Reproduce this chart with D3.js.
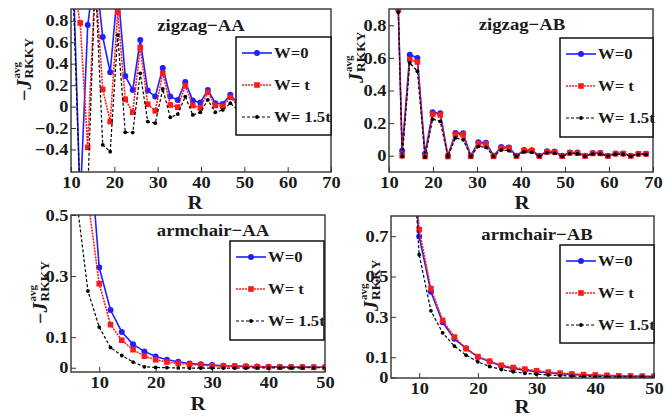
<!DOCTYPE html>
<html>
<head>
<meta charset="utf-8">
<script src="https://cdn.jsdelivr.net/npm/d3@7"></script>
<style>
  html, body { margin: 0; padding: 0; background: #fff; }
  svg { display: block; }
</style>
</head>
<body>
<div id="chart"></div>
<script>
// ---- data ----
// zigzag-AA : R = n*sqrt(3), n = 6..40
var zzAA_R = [10.39, 12.12, 13.86, 15.59, 17.32, 19.05, 20.78, 22.52, 24.25, 25.98, 27.71, 29.44,
              31.18, 32.91, 34.64, 36.37, 38.11, 39.84, 41.57, 43.30, 45.03, 46.77, 48.50, 50.23,
              51.96, 53.69, 55.43, 57.16, 58.89, 60.62, 62.35, 64.09, 65.82, 67.55, 69.28];
var zzAA_W0  = [1.4, -0.9, 0.76, 1.3, 0.65, 0.32, 1.1, 0.285, 0.155, 0.62, 0.15, 0.093,
                0.36, 0.093, 0.062, 0.23, 0.056, 0.037, 0.155, 0.031, 0.025, 0.11, 0.028, 0.02,
                0.08, 0.02, 0.015, 0.06, 0.015, 0.012, 0.045, 0.012, 0.01, 0.035, 0.01];
var zzAA_Wt  = [1.2, 0.78, -0.38, 1.2, 0.16, -0.14, 0.88, 0.068, -0.053, 0.55, 0.022, -0.04,
                0.31, 0.015, -0.006, 0.195, 0.01, -0.012, 0.133, 0.01, 0.003, 0.087, 0.01, 0.0,
                0.06, 0.006, 0.0, 0.045, 0.005, 0.0, 0.035, 0.004, 0.0, 0.028, 0.003];
var zzAA_W15 = [1.2, -0.9, -0.8, 1.2, -0.357, -0.42, 0.667, -0.24, -0.242, 0.31, -0.14, -0.155,
                0.164, -0.1, -0.07, 0.093, -0.078, -0.053, 0.062, -0.053, -0.031, 0.031, -0.03, -0.02,
                0.03, -0.02, -0.015, 0.02, -0.015, -0.01, 0.015, -0.01, -0.008, 0.012, -0.008];

// zigzag-AB
var zzAB_R = [12.12, 12.99, 14.72, 16.45, 18.19, 19.92, 21.65, 23.38, 25.11, 26.85, 28.58, 30.31,
              32.04, 33.77, 35.51, 37.24, 38.97, 40.70, 42.44, 44.17, 45.90, 47.63, 49.36, 51.10,
              52.83, 54.56, 56.29, 58.02, 59.76, 61.49, 63.22, 64.95, 66.68, 68.42];
var zzAB_W0  = [0.90, 0.03, 0.62, 0.60, 0.012, 0.266, 0.26, 0.0, 0.14, 0.137, 0.0, 0.082,
                0.08, 0.0, 0.053, 0.051, 0.0, 0.035, 0.033, 0.0, 0.027, 0.026, 0.0, 0.02,
                0.019, 0.0, 0.017, 0.016, 0.0, 0.014, 0.014, 0.0, 0.012, 0.012];
var zzAB_Wt  = [0.895, 0.0, 0.59, 0.575, -0.005, 0.255, 0.25, -0.005, 0.13, 0.128, -0.004, 0.075,
                0.073, -0.004, 0.047, 0.046, -0.003, 0.03, 0.03, -0.003, 0.023, 0.022, -0.003, 0.017,
                0.016, -0.002, 0.014, 0.014, -0.002, 0.012, 0.012, -0.002, 0.011, 0.01];
var zzAB_W15 = [0.88, -0.005, 0.57, 0.518, -0.008, 0.225, 0.21, -0.006, 0.109, 0.098, -0.005, 0.057,
                0.051, -0.004, 0.035, 0.031, -0.004, 0.024, 0.021, -0.003, 0.018, 0.016, -0.003, 0.013,
                0.012, -0.003, 0.011, 0.01, -0.002, 0.009, 0.009, -0.002, 0.008, 0.008];

// armchair-AA
var acAA_R = [6, 8, 10, 12, 14, 16, 18, 20, 22, 24, 26, 28, 30, 32, 34, 36, 38, 40, 42, 44, 46, 48, 50];
var acAA_W0  = [1.4, 0.8, 0.328, 0.189, 0.117, 0.0765, 0.0535, 0.037, 0.026, 0.0197, 0.014, 0.011,
                0.0087, 0.0066, 0.0055, 0.0045, 0.0038, 0.0032, 0.0027, 0.0023, 0.002, 0.0018, 0.0015];
var acAA_Wt  = [1.0, 0.55, 0.275, 0.141, 0.09, 0.059, 0.038, 0.026, 0.0186, 0.014, 0.011, 0.0087,
                0.0066, 0.0052, 0.0043, 0.0036, 0.003, 0.0026, 0.0022, 0.0019, 0.0017, 0.0015, 0.0013];
var acAA_W15 = [0.55, 0.251, 0.133, 0.066, 0.040, 0.0186, 0.003, 0.001, 0.0, -0.0005, -0.001, -0.001,
                -0.001, -0.001, -0.001, -0.0008, -0.0006, -0.0005, -0.0004, -0.0003, -0.0002, -0.0001, 0.0];

// armchair-AB
var acAB_R = [8, 10, 12, 14, 16, 18, 20, 22, 24, 26, 28, 30, 32, 34, 36, 38, 40, 42, 44, 46, 48, 50];
var acAB_W0  = [1.38, 0.698, 0.425, 0.273, 0.191, 0.144, 0.101, 0.0785, 0.057, 0.044, 0.036, 0.028,
                0.023, 0.018, 0.015, 0.012, 0.01, 0.008, 0.007, 0.006, 0.005, 0.004];
var acAB_Wt  = [1.45, 0.733, 0.44, 0.283, 0.2, 0.142, 0.103, 0.08, 0.06, 0.049, 0.041, 0.033,
                0.026, 0.021, 0.017, 0.014, 0.012, 0.01, 0.008, 0.007, 0.006, 0.005];
var acAB_W15 = [1.57, 0.608, 0.33, 0.221, 0.155, 0.11, 0.077, 0.054, 0.039, 0.028, 0.02, 0.016,
                0.012, 0.009, 0.007, 0.005, 0.004, 0.003, 0.003, 0.002, 0.002, 0.001];

var legendNames = ["W=0", "W= t", "W= 1.5t"];
var xTicksZZ = [10, 20, 30, 40, 50, 60, 70];
var xTicksAC = [10, 20, 30, 40, 50];
var yTicksZZAA = [-0.4, -0.2, 0, 0.2, 0.4, 0.6, 0.8];
var yTicksZZAB = [0, 0.2, 0.4, 0.6, 0.8];
var yTicksACAA = [0, 0.1, 0.3, 0.5];
var yTicksACAB = [0, 0.1, 0.3, 0.5, 0.7];

// ---- drawing ----
var W = 665, H = 420;
var FONT = '"Liberation Serif", "Times New Roman", serif';
var SX = 1.15;   // the figure's text is stretched sideways

var svg = d3.select("#chart").append("svg")
    .attr("width", W).attr("height", H);

var styles = [
  {color: "#1f1fff", width: 1.6, dash: null,  mark: "circle"},
  {color: "#ff1a1a", width: 1.6, dash: "2,1", mark: "square"},
  {color: "#000000", width: 1.2, dash: "3,2", mark: "dot"}
];

function fmt(v) {
  if (v === 0) return "0";
  return (v < 0 ? "\u2212" : "") + Math.abs(v);
}

function marker(g, kind, cx, cy, color) {
  if (kind === "circle") {
    g.append("circle").attr("cx", cx).attr("cy", cy).attr("r", 3).attr("fill", color);
  } else if (kind === "square") {
    g.append("rect").attr("x", cx - 2.8).attr("y", cy - 2.8).attr("width", 5.6).attr("height", 5.6).attr("fill", color);
  } else {
    g.append("circle").attr("cx", cx).attr("cy", cy).attr("r", 1.9).attr("fill", color);
  }
}

function stext(g, x, y, str, size, anchor, sx) {
  return g.append("text")
    .attr("transform", "translate(" + x + "," + y + ") scale(" + sx + ",1)")
    .attr("text-anchor", anchor)
    .attr("font-family", FONT)
    .attr("font-weight", "bold")
    .attr("font-size", size)
    .attr("fill", "#1a1a1a")
    .text(str);
}

function drawPanel(p, idx) {
  var x0 = p.frame[0], y0 = p.frame[1], x1 = p.frame[2], y1 = p.frame[3];
  var x = d3.scaleLinear().domain(p.xd).range([x0, x1]);
  var y = d3.scaleLinear().domain(p.yd).range([y1, y0]);
  var g = svg.append("g");

  svg.append("clipPath").attr("id", "clip" + idx)
    .append("rect").attr("x", x0).attr("y", y0).attr("width", x1 - x0).attr("height", y1 - y0);

  // axes, ticks pointing inward
  var ya = g.append("g").attr("transform", "translate(" + x0 + ",0)")
    .call(d3.axisLeft(y).tickValues(p.yt).tickFormat(fmt).tickSizeInner(-5).tickSizeOuter(0).tickPadding(3));
  var xa = g.append("g").attr("transform", "translate(0," + y1 + ")")
    .call(d3.axisBottom(x).tickValues(p.xt).tickFormat(fmt).tickSizeInner(-5).tickSizeOuter(0).tickPadding(4));
  [ya, xa].forEach(function(a) {
    a.select(".domain").remove();
    a.selectAll("line").attr("stroke", "#333");
    a.selectAll("text")
      .attr("font-family", FONT).attr("font-weight", "bold").attr("font-size", 16)
      .attr("fill", "#1a1a1a").attr("transform", "scale(" + SX + ",1)");
  });
  ya.selectAll("text").attr("x", -2.5 / SX);
  xa.selectAll("text").attr("dy", "0.74em");

  // series
  var plot = g.append("g").attr("clip-path", "url(#clip" + idx + ")");
  var line = d3.line().x(function(d) { return x(d[0]); }).y(function(d) { return y(d[1]); });
  p.series.forEach(function(vals, si) {
    var st = styles[si];
    var pts = vals.map(function(v, i) { return [p.R[i], v]; });
    plot.append("path").datum(pts)
      .attr("d", line).attr("fill", "none")
      .attr("stroke", st.color).attr("stroke-width", st.width)
      .attr("stroke-dasharray", st.dash);
    pts.forEach(function(d) { marker(plot, st.mark, x(d[0]), y(d[1]), st.color); });
  });

  // frame
  g.append("rect").attr("x", x0).attr("y", y0).attr("width", x1 - x0).attr("height", y1 - y0)
    .attr("fill", "none").attr("stroke", "#333").attr("stroke-width", 1.4);

  // title and x label
  stext(g, p.title[1], p.title[2], p.title[0], 17, "middle", 1.1);
  stext(g, p.xlab[0], p.xlab[1], "R", 19, "middle", 1.1);

  // y label: (−)J with stacked avg / RKKY
  var yl = g.append("g").attr("transform", "translate(" + p.ylab[0] + "," + p.ylab[1] + ") rotate(-90)");
  var main = yl.append("text").attr("font-family", FONT).attr("font-weight", "bold")
    .attr("font-size", 20).attr("fill", "#1a1a1a");
  if (p.minus) main.append("tspan").text("\u2212");
  main.append("tspan").attr("font-style", "italic").text("J");
  var w = main.node().getComputedTextLength() + 1;
  yl.append("text").attr("x", w).attr("y", -11).attr("font-family", FONT).attr("font-weight", "bold")
    .attr("font-size", 11).attr("fill", "#1a1a1a").text("avg");
  yl.append("text").attr("x", w).attr("y", 2).attr("font-family", FONT).attr("font-weight", "bold")
    .attr("font-size", 13.5).attr("fill", "#1a1a1a").text("RKKY");

  // legend
  var L = p.legend;
  g.append("rect").attr("x", L[0]).attr("y", L[1]).attr("width", L[2] - L[0]).attr("height", L[3] - L[1])
    .attr("fill", "#fff").attr("stroke", "#111").attr("stroke-width", 1.5);
  legendNames.forEach(function(name, i) {
    var st = styles[i];
    var ly = L[1] + 16 + i * 32;
    var lx = L[0] + 6;
    g.append("line").attr("x1", lx).attr("x2", lx + 30).attr("y1", ly).attr("y2", ly)
      .attr("stroke", st.color).attr("stroke-width", st.width).attr("stroke-dasharray", st.dash);
    marker(g, st.mark, lx + 15, ly, st.color);
    stext(g, lx + 32, ly + 5, name, 14.5, "start", 1.15);
  });
}

var panels = [
  {frame: [71, 9, 331, 172], xd: [10, 70], yd: [-0.61, 0.91], xt: xTicksZZ, yt: yTicksZZAA,
   R: zzAA_R, series: [zzAA_W0, zzAA_Wt, zzAA_W15], title: ["zigzag\u2212AA", 201, 31],
   xlab: [195, 209], ylab: [31, 101], minus: true, legend: [236, 37, 331, 135]},
  {frame: [389, 9, 653, 172], xd: [10, 70], yd: [-0.1, 0.9], xt: xTicksZZ, yt: yTicksZZAB,
   R: zzAB_R, series: [zzAB_W0, zzAB_Wt, zzAB_W15], title: ["zigzag\u2212AB", 522, 30],
   xlab: [522, 209], ylab: [363, 83], minus: false, legend: [560, 38, 653, 137]},
  {frame: [71, 215, 325, 372], xd: [5, 50], yd: [-0.014, 0.5], xt: xTicksAC, yt: yTicksACAA,
   R: acAA_R, series: [acAA_W0, acAA_Wt, acAA_W15], title: ["armchair\u2212AA", 213, 236],
   xlab: [198, 410], ylab: [47, 324], minus: true, legend: [230, 241, 324, 340]},
  {frame: [391, 216, 654, 378], xd: [5.2, 50], yd: [-0.003, 0.8], xt: xTicksAC, yt: yTicksACAB,
   R: acAB_R, series: [acAB_W0, acAB_Wt, acAB_W15], title: ["armchair\u2212AB", 537, 240],
   xlab: [522, 413], ylab: [378, 311], minus: false, legend: [560, 245, 654, 343]}
];

panels.forEach(drawPanel);
</script>
</body>
</html>
